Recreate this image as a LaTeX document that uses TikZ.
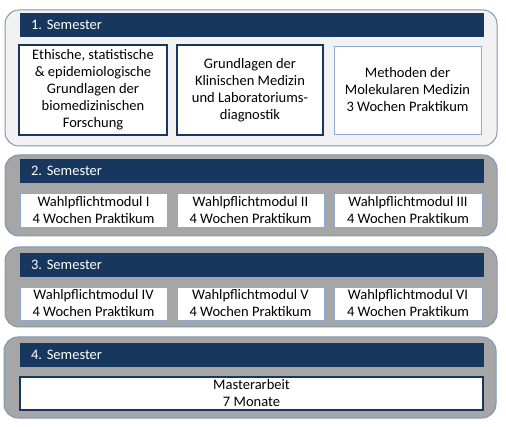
\documentclass[tikz,border=0pt]{standalone}
\usepackage{fontspec}
\setmainfont{Carlito}
\frenchspacing
\definecolor{navy}{HTML}{17375E}
\definecolor{rim}{HTML}{8096B4}
\definecolor{paleblue}{HTML}{8EAAD2}
\definecolor{panelgray}{HTML}{A6A6A6}
\definecolor{panelpale}{HTML}{F2F2F2}
\begin{document}
\begin{tikzpicture}[x=1pt,y=-1pt,
  panel/.style={draw=rim, fill=panelgray, line width=1pt, rounded corners=14pt, minimum width=492pt},
  bar/.style={fill=navy, text=white, minimum height=24pt, text width=442pt, align=left, inner xsep=11pt, inner ysep=0pt, font=\fontsize{14.5}{16}\selectfont},
  modbox/.style={draw=paleblue, fill=white, line width=0.9pt, inner sep=0pt, align=center, font=\fontsize{14.5}{17}\selectfont},
  darkbox/.style={modbox, draw=navy, line width=1.4pt}]
\useasboundingbox (0,0) rectangle (506,427);
% 1. Semester
\node[panel, fill=panelpale, minimum height=136pt] (sem1) at (251,78){};
\node[bar] (bar1) at (252,25){1. Semester};
\node[darkbox, minimum width=148pt, minimum height=90pt] (mod11) at (93,90){Ethische, statistische\\\& epidemiologische\\Grundlagen der\\biomedizinischen\\Forschung};
\node[darkbox, minimum width=146pt, minimum height=90pt] (mod12) at (250,90){Grundlagen der\\Klinischen Medizin\\und Laboratoriums-\\diagnostik};
\node[modbox, minimum width=147pt, minimum height=88pt] (mod13) at (407.5,90){Methoden der\\Molekularen Medizin\\3 Wochen Praktikum};
% 2. Semester
\node[panel, minimum height=81pt] (sem2) at (251,195.5){};
\node[bar] (bar2) at (252,171){2. Semester};
\node[modbox, minimum width=147pt, minimum height=34pt] (mod21) at (93.5,210){Wahlpflichtmodul I\\4 Wochen Praktikum};
\node[modbox, minimum width=147pt, minimum height=34pt] (mod22) at (250.5,210){Wahlpflichtmodul II\\4 Wochen Praktikum};
\node[modbox, minimum width=148pt, minimum height=34pt] (mod23) at (408,210){Wahlpflichtmodul III\\4 Wochen Praktikum};
% 3. Semester
\node[panel, minimum height=80pt] (sem3) at (251,287){};
\node[bar] (bar3) at (252,265){3. Semester};
\node[modbox, minimum width=147pt, minimum height=33pt] (mod31) at (93.5,303.5){Wahlpflichtmodul IV\\4 Wochen Praktikum};
\node[modbox, minimum width=147pt, minimum height=33pt] (mod32) at (250.5,303.5){Wahlpflichtmodul V\\4 Wochen Praktikum};
\node[modbox, minimum width=148pt, minimum height=33pt] (mod33) at (408,303.5){Wahlpflichtmodul VI\\4 Wochen Praktikum};
% 4. Semester
\node[panel, minimum height=81pt] (sem4) at (250,377.5){};
\node[bar] (bar4) at (252,355){4. Semester};
\node[darkbox, line width=1.2pt, minimum width=463pt, minimum height=33pt] (mod41) at (251.5,393.5){Masterarbeit\\7 Monate};
\end{tikzpicture}
\end{document}
